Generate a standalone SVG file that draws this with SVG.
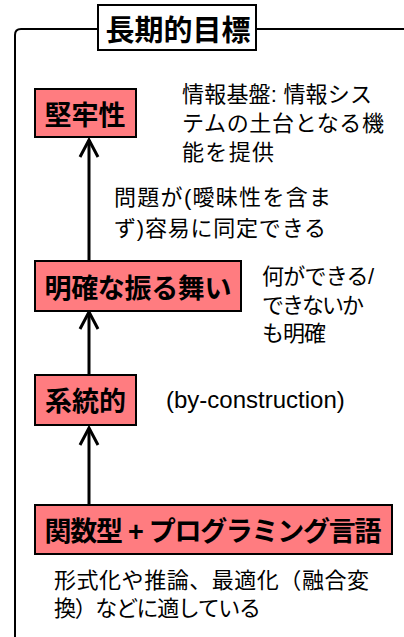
<svg xmlns="http://www.w3.org/2000/svg" width="404" height="637" viewBox="0 0 404 637">
<style>
.frame{fill:none;stroke:#000;stroke-width:2}
.box{fill:#FF7C80;stroke:#000;stroke-width:2}
.tbox{fill:#fff;stroke:#000;stroke-width:2}
.bt{font-family:"Liberation Sans","Noto Sans CJK JP",sans-serif;font-weight:bold;font-size:27px;fill:#000;text-anchor:middle}
.tt{font-family:"Liberation Sans","Noto Sans CJK JP",sans-serif;font-weight:bold;font-size:29px;fill:#000;text-anchor:middle}
.an{font-family:"Liberation Sans","Noto Sans CJK JP",sans-serif;font-size:22px;fill:#000}
.con{fill:none;stroke:#000;stroke-width:3}
</style>
<rect width="404" height="637" fill="#fff"/>
<path class="frame" d="M15 640 L15 35 Q15 29 21 29 L406 29"/>
<g id="title">
<rect class="tbox" x="98" y="5" width="158" height="45"/>
<text class="tt" x="178" y="41">長期的目標</text>
</g>
<g id="connectors">
<line class="con" x1="89" y1="140" x2="89" y2="261"/>
<polyline class="con" points="80,157 89,140 98,157"/>
<line class="con" x1="89" y1="313" x2="89" y2="375"/>
<polyline class="con" points="80,329 89,312 98,329"/>
<line class="con" x1="89" y1="429" x2="89" y2="505"/>
<polyline class="con" points="80,445 89,428 98,445"/>
</g>
<g id="robust">
<rect class="box" x="35" y="89" width="101" height="48"/>
<text class="bt" x="85" y="125">堅牢性</text>
</g>
<g id="clear">
<rect class="box" x="35" y="261" width="206" height="50"/>
<text class="bt" x="138" y="298" textLength="187">明確な振る舞い</text>
</g>
<g id="systematic">
<rect class="box" x="35" y="375" width="101" height="50"/>
<text class="bt" x="85.5" y="411">系統的</text>
</g>
<g id="fp">
<rect class="box" x="35" y="505" width="357" height="49"/>
<text class="bt" x="213" y="541" textLength="337">関数型 + プログラミング言語</text>
</g>
<g id="notes">
<text class="an" x="182" y="102" textLength="190">情報基盤: 情報シス</text>
<text class="an" x="182" y="131" textLength="202">テムの土台となる機</text>
<text class="an" x="182" y="160" textLength="92">能を提供</text>
<text class="an" x="114" y="205" textLength="217">問題が(曖昧性を含ま</text>
<text class="an" x="114" y="236" textLength="212">ず)容易に同定できる</text>
<text class="an" x="262" y="284" textLength="112">何ができる/</text>
<text class="an" x="262" y="313" textLength="102">できないか</text>
<text class="an" x="262" y="341" textLength="64">も明確</text>
<text class="an" x="166" y="408" style="font-size:24px">(by-construction)</text>
<text class="an" x="54" y="588" textLength="315">形式化や推論、最適化（融合変</text>
<text class="an" x="54" y="616" textLength="207">換）などに適している</text>
</g>
</svg>
